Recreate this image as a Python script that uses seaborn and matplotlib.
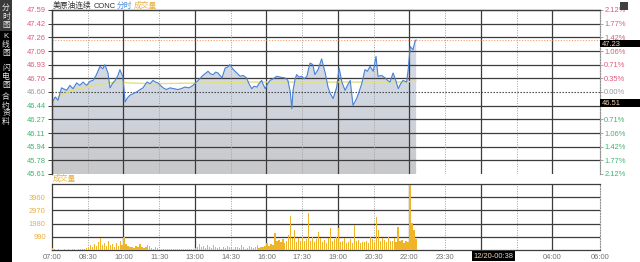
import matplotlib
matplotlib.use('Agg')
import matplotlib.pyplot as plt
import seaborn as sns
import numpy as np
import pandas as pd
from matplotlib.patches import Rectangle
from matplotlib.colors import LinearSegmentedColormap

sns.set_theme(style='white')
plt.rcParams['font.family'] = ['Liberation Sans', 'Noto Sans CJK SC', 'DejaVu Sans']

# ---------------- data (minutes since 07:00) ----------------
price_min = [0, 8, 15, 24, 37, 45, 53, 62, 70, 78, 87, 96, 103, 111, 121, 128, 133, 141, 146,
             152, 159, 166, 171, 178, 181, 184, 190, 196, 204, 213, 222, 229, 239, 247, 254,
             261, 267, 273, 280, 288, 297, 307, 317, 325, 335, 345, 355, 368, 380, 393, 399,
             406, 412, 418, 428, 436, 442, 448, 455, 461, 474, 481, 490, 496, 503, 509, 516,
             521, 528, 531, 537, 543, 549, 557, 566, 574, 587, 594, 600, 604, 607, 612, 616,
             622, 629, 635, 642, 646, 650, 657, 662, 670, 679, 688, 695, 701, 708, 717, 723,
             730, 738, 744, 751, 758, 767, 773, 780, 788, 794, 801, 809, 816, 821, 830, 839,
             845, 851, 859, 865, 872, 878, 884, 893, 897, 902, 909, 914, 917]
price_val = [46.47, 46.54, 46.50, 46.65, 46.62, 46.68, 46.64, 46.71, 46.68, 46.72, 46.68, 46.73,
             46.74, 46.80, 46.91, 46.88, 46.93, 46.83, 46.65, 46.70, 46.74, 46.80, 46.87, 46.79,
             46.65, 46.48, 46.53, 46.56, 46.58, 46.60, 46.63, 46.65, 46.72, 46.70, 46.74, 46.72,
             46.71, 46.68, 46.65, 46.63, 46.65, 46.64, 46.63, 46.64, 46.66, 46.65, 46.68, 46.74,
             46.80, 46.85, 46.82, 46.81, 46.84, 46.83, 46.77, 46.89, 46.90, 46.93, 46.88, 46.85,
             46.79, 46.80, 46.77, 46.70, 46.64, 46.67, 46.66, 46.70, 46.74, 46.70, 46.64, 46.70,
             46.74, 46.76, 46.79, 46.78, 46.77, 46.74, 46.60, 46.40, 46.62, 46.75, 46.81, 46.78,
             46.79, 46.76, 46.79, 46.88, 46.95, 46.93, 46.81, 46.87, 47.00, 46.83, 46.66, 46.58,
             46.52, 46.66, 46.89, 46.72, 46.62, 46.68, 46.74, 46.44, 46.52, 46.60, 46.70, 46.87,
             46.85, 46.91, 46.85, 47.03, 46.79, 46.80, 46.77, 46.74, 46.72, 46.83, 46.75, 46.64,
             46.70, 46.74, 46.72, 46.87, 47.15, 47.11, 47.21, 47.23]
avg_min = [0, 20, 50, 90, 130, 170, 190, 250, 400, 500, 600, 700, 800, 880, 917]
avg_val = [46.49, 46.55, 46.62, 46.66, 46.70, 46.73, 46.71, 46.70, 46.71, 46.72, 46.72,
           46.72, 46.72, 46.72, 46.73]

vol_5min = [150, 40, 30, 60, 20, 30, 50, 20, 40, 30, 60, 40, 30, 80, 50, 60, 40, 120,
            250, 350, 200, 450, 300, 600, 900, 400, 550, 300, 700, 350, 450, 250, 500, 300, 650, 400,
            1000,
            450, 300, 200, 250, 150, 300, 200, 450, 250, 150, 200, 400, 300, 150, 100, 200, 150,
            80, 60, 50, 100, 40, 60, 80, 50, 40, 70, 60, 40, 50, 80, 60, 40, 100, 80,
            150, 250, 450, 200, 300, 150, 400, 200, 150, 350, 250, 150, 200, 100, 250, 150, 300, 200,
            150, 100, 250, 200, 150, 400, 200, 100, 150, 300, 250, 150, 200, 350, 150, 250, 200, 300,
            500, 300, 450, 350, 1250, 700, 750, 600, 800, 500, 650, 1100, 2550, 900, 1500, 600, 875, 700,
            1000, 650, 800, 2750, 700, 1000, 600, 850, 1375, 900, 600, 750, 500, 900, 1625, 700, 800, 1000,
            1625, 600, 700, 875, 550, 625, 800, 500, 1875, 700, 750, 500, 600, 625, 700, 550, 1000, 800,
            600, 2450, 1500, 700, 900, 750, 600, 1000, 700, 650, 875, 600, 1750, 700, 750, 550, 650, 600,
            4875, 2000, 1500, 800]

tick_min = [0, 90, 180, 270, 360, 450, 540, 630, 720, 810, 900, 990, 1260, 1380]
tick_lab = ["07:00", "08:30", "10:00", "11:30", "13:00", "14:30", "16:00", "17:30", "19:00",
            "20:30", "22:00", "23:30", "04:00", "06:00"]
grid_min = [90, 180, 270, 360, 450, 540, 630, 720, 810, 900, 990, 1080, 1170, 1260]

left_vals = [47.59, 47.425, 47.26, 47.095, 46.93, 46.765, 46.60, 46.435, 46.27, 46.105,
             45.94, 45.775, 45.61]
left_labs = ["47.59", "47.42", "47.26", "47.09", "46.93", "46.76", "46.60", "46.44", "46.27",
             "46.11", "45.94", "45.78", "45.61"]
right_labs = ["2.12%", "1.77%", "1.42%", "1.06%", "0.71%", "0.35%", "0.00%", "", "0.71%",
              "1.06%", "1.42%", "1.77%", "2.12%"]
vol_ticks = [990, 1980, 2970, 3960]
vol_labs = ["990", "1980", "2970", "3960"]
prev_close = 46.60
last_price = 47.23
mark_price = 46.51
cursor_time = "12/20-00:38"

RED = '#e0587a'
GREEN = '#3fb46e'
GRAY = '#9a9a9a'
ORANGE = '#e8b040'
DARK = '#3c3c3c'
FS = 5.4

def level_color(i):
    return RED if i < 6 else (GRAY if i == 6 else GREEN)

# ---------------- figure ----------------
fig = plt.figure(figsize=(6.4, 2.62), dpi=100)
fig.patch.set_facecolor('white')
ax = fig.add_axes([52/640, 88/262, 548/640, 164/262])
axv = fig.add_axes([52/640, 12/262, 548/640, 66/262])

ymin, ymax = 45.61, 47.59
df = pd.DataFrame({'t': price_min, 'p': price_val})
dfa = pd.DataFrame({'t': avg_min, 'a': avg_val})

# gradient fill under price
poly = ax.fill_between(df['t'], df['p'], ymin, color='none', lw=0)
cmap = LinearSegmentedColormap.from_list('g', ['#c8c8ca', '#d2d8e2', '#d3dced'])
grad = np.linspace(0, 1, 256).reshape(-1, 1)
im = ax.imshow(grad, extent=[0, max(price_min), ymin, ymax], aspect='auto', origin='lower',
               cmap=cmap, zorder=1)
im.set_clip_path(poly.get_paths()[0], transform=ax.transData)

# grids
for i, v in enumerate(left_vals[1:-1], start=1):
    if i == 6:
        ax.axhline(v, color='#333333', lw=0.8, ls=(0, (1.2, 1.5)), zorder=2)
    else:
        ax.axhline(v, color=DARK, lw=0.9, zorder=2)
for g in grid_min:
    for a in (ax, axv):
        if g % 180 == 0:
            a.axvline(g, color=DARK, lw=0.9, zorder=2)
        else:
            a.axvline(g, color='#a0a0a0', lw=0.7, ls=(0, (1, 1.5)), zorder=2)
for v in vol_ticks:
    axv.axhline(v, color=DARK, lw=0.9, zorder=2)

ax.axhline(last_price, color='#f0a070', lw=0.8, ls=(0, (1, 1.5)), zorder=2)

sns.lineplot(data=dfa, x='t', y='a', ax=ax, color='#e4e07a', lw=1.0, zorder=3)
sns.lineplot(data=df, x='t', y='p', ax=ax, color='#4a82d4', lw=0.8, zorder=4)

ax.set_xlim(0, 1380)
ax.set_ylim(ymin, ymax)
ax.set_xlabel('')
ax.set_ylabel('')
ax.set_xticks([])
ax.set_yticks(left_vals)
ax.set_yticklabels(left_labs, fontsize=FS)
for i, t in enumerate(ax.get_yticklabels()):
    t.set_color(level_color(i))
ax.tick_params(axis='y', direction='out', length=3, width=0.7, color=DARK, pad=1.5)

ax2 = ax.twinx()
ax2.set_ylim(ymin, ymax)
ax2.set_yticks(left_vals)
ax2.set_yticklabels(right_labs, fontsize=FS)
for i, t in enumerate(ax2.get_yticklabels()):
    t.set_color(level_color(i))
ax2.tick_params(axis='y', direction='out', length=2, width=0.6, color=GRAY, pad=1)
ax2.grid(False)

for a in (ax, ax2):
    a.spines['bottom'].set_visible(False)
    a.spines['top'].set_color(DARK)
    a.spines['top'].set_linewidth(0.9)
    a.spines['left'].set_color(DARK)
    a.spines['left'].set_linewidth(0.9)
    a.spines['right'].set_color('#909090')
    a.spines['right'].set_linestyle((0, (1, 1.5)))
    a.spines['right'].set_linewidth(0.8)

# price boxes on right (wide black tags)
for val in (last_price, mark_price):
    ax2.add_patch(Rectangle((1.0, val), 40/548, -(7.5/164) * (ymax - ymin),
                            transform=ax2.get_yaxis_transform(), fc='black', ec='none',
                            clip_on=False, zorder=9))
    ax2.text(1.004, val - 0.01, f"{val:.2f}", transform=ax2.get_yaxis_transform(),
             fontsize=FS, color='#f3d4b0', va='top', ha='left', zorder=10)

# ---------------- volume ----------------
vt = np.arange(len(vol_5min)) * 5
axv.bar(vt, vol_5min, width=3.0, align='edge', color='#f0b428', lw=0, zorder=3)
axv.set_xlim(0, 1380)
axv.set_ylim(0, 4950)
axv.set_yticks(vol_ticks)
axv.set_yticklabels(vol_labs, fontsize=FS, color=ORANGE)
axv.set_xticks(tick_min)
axv.set_xticklabels(tick_lab, fontsize=FS, color='#707070')
axv.tick_params(axis='y', direction='out', length=3, width=0.7, color=DARK, pad=1.5)
axv.tick_params(axis='x', direction='out', length=0, pad=3)
for s in ('top', 'left', 'bottom'):
    axv.spines[s].set_color(DARK)
    axv.spines[s].set_linewidth(0.9)
axv.spines['right'].set_color('#909090')
axv.spines['right'].set_linestyle((0, (1, 1.5)))
axv.spines['right'].set_linewidth(0.8)

# ---------------- titles ----------------
ty = 1 - 6/262
fig.text(53/640, ty, "美原油连续", fontsize=5.6, color='#303030', va='center', ha='left')
fig.text(94/640, ty, "CONC", fontsize=5.4, color='#303030', va='center', ha='left')
fig.text(117/640, ty, "分时", fontsize=5.6, color='#4a90e0', va='center', ha='left')
fig.text(134/640, ty, "成交量", fontsize=5.6, color='#e8b040', va='center', ha='left')
fig.text(53/640, 1 - 179/262, "成交量", fontsize=5.6, color='#e8b040', va='center', ha='left')

# cursor time box
fig.text(493/640, 1 - 256/262, cursor_time, fontsize=FS, color='#f3d4b0', va='center', ha='center',
         bbox=dict(boxstyle='square,pad=0.2', fc='black', ec='none'), zorder=10)

# ---------------- left sidebar ----------------
fig.patches.append(Rectangle((0, 0), 12/640, 1, transform=fig.transFigure, fc='black', ec='none'))
fig.patches.append(Rectangle((0, 1 - 31/262), 12/640, 31/262, transform=fig.transFigure,
                             fc='#3a3a3a', ec='none'))
side = [("分", 8), ("时", 17), ("图", 26), ("K", 36), ("线", 45), ("图", 54),
        ("闪", 68), ("电", 77), ("图", 86), ("合", 97), ("约", 106), ("资", 114), ("料", 122)]
for ch, y in side:
    fig.text(6/640, 1 - y/262, ch, fontsize=5.6, color='#e8e8e8', va='center', ha='center')

# top-right small icon
fig.patches.append(Rectangle((620/640, 1 - 10/262), 8/640, 8/262, transform=fig.transFigure,
                             fc='#404040', ec='none'))

fig.savefig('out.png', dpi=100, facecolor='white')
